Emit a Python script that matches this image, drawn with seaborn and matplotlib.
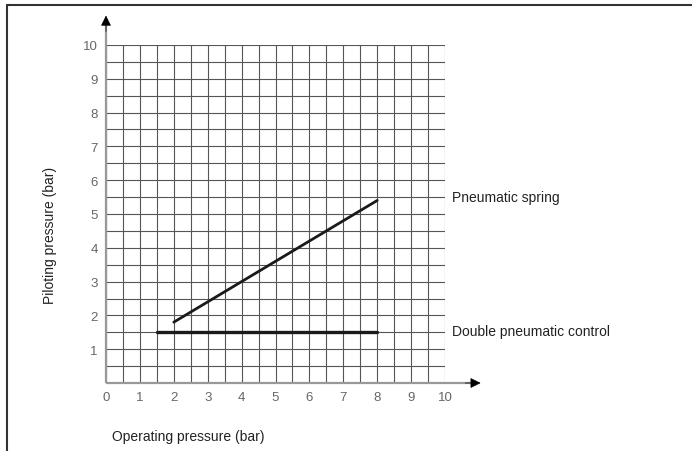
import numpy as np
import pandas as pd
import matplotlib
matplotlib.use('Agg')
import matplotlib.pyplot as plt
import seaborn as sns

# Values
spring_x = [2, 8]
spring_y = [1.8, 5.4]
double_x = [1.5, 8]
double_y = [1.5, 1.5]
ticks = list(range(0, 11))
series_labels = ['Pneumatic spring', 'Double pneumatic control']
label_y = [5.5, 1.55]

sns.set_style('white')
plt.rcParams['font.family'] = ['Liberation Sans', 'DejaVu Sans']

fig = plt.figure(figsize=(6.92, 4.52), dpi=100)
ax = fig.add_axes([106 / 692, 68 / 452, 339 / 692, 338 / 452])

df = pd.concat([
    pd.DataFrame({'op': spring_x, 'pil': spring_y, 'curve': series_labels[0]}),
    pd.DataFrame({'op': double_x, 'pil': double_y, 'curve': series_labels[1]}),
])
sns.lineplot(data=df[df.curve == series_labels[0]], x='op', y='pil', color='#1a1a1a',
             linewidth=2.0, ax=ax, legend=False)
sns.lineplot(data=df[df.curve == series_labels[1]], x='op', y='pil', color='#1a1a1a',
             linewidth=2.4, ax=ax, legend=False)

ax.set_xlim(0, 10)
ax.set_ylim(0, 10)
ax.set_xticks(ticks)
ax.set_yticks(ticks[1:])
ax.set_xticks(np.arange(0, 10.01, 0.5), minor=True)
ax.set_yticks(np.arange(0, 10.01, 0.5), minor=True)
ax.grid(which='both', color='#555555', linewidth=0.8)
ax.tick_params(which='both', length=0, labelsize=9.5, labelcolor='#666666', pad=6)
ax.set_axisbelow(True)
for s in ax.spines.values():
    s.set_visible(False)
ax.set_xlabel('')
ax.set_ylabel('')

# axis lines with arrow heads
ax.plot([0, 0], [0, 1.06], transform=ax.transAxes, color='#999999', lw=1.6,
        clip_on=False, solid_capstyle='butt')
ax.plot([0, 1.08], [0, 0], transform=ax.transAxes, color='#999999', lw=1.6,
        clip_on=False, solid_capstyle='butt')
head = dict(arrowstyle='-|>', color='black', lw=0.5, mutation_scale=16,
            shrinkA=0, shrinkB=0)
ax.annotate('', xy=(0, 1.087), xytext=(0, 1.04), xycoords='axes fraction',
            arrowprops=head, annotation_clip=False)
ax.annotate('', xy=(1.105, 0), xytext=(1.06, 0), xycoords='axes fraction',
            arrowprops=head, annotation_clip=False)

for name, yv in zip(series_labels, label_y):
    ax.text(10.2, yv, name, fontsize=10, color='#222222', va='center', ha='left',
            clip_on=False)

fig.text(50 / 692, 1 - 235 / 452, 'Piloting pressure (bar)', rotation=90,
         fontsize=10, color='#222222', va='center', ha='center')
fig.text(112 / 692, 1 - 437 / 452, 'Operating pressure (bar)', fontsize=10,
         color='#222222', va='center', ha='left')

# frame lines at top and left
fig.add_artist(plt.Line2D([7 / 692, 1], [1 - 6 / 452, 1 - 6 / 452], color='#333333', lw=1.5))
fig.add_artist(plt.Line2D([7 / 692, 7 / 692], [0, 1 - 6 / 452], color='#333333', lw=1.5))

fig.savefig('out.png', dpi=100)
